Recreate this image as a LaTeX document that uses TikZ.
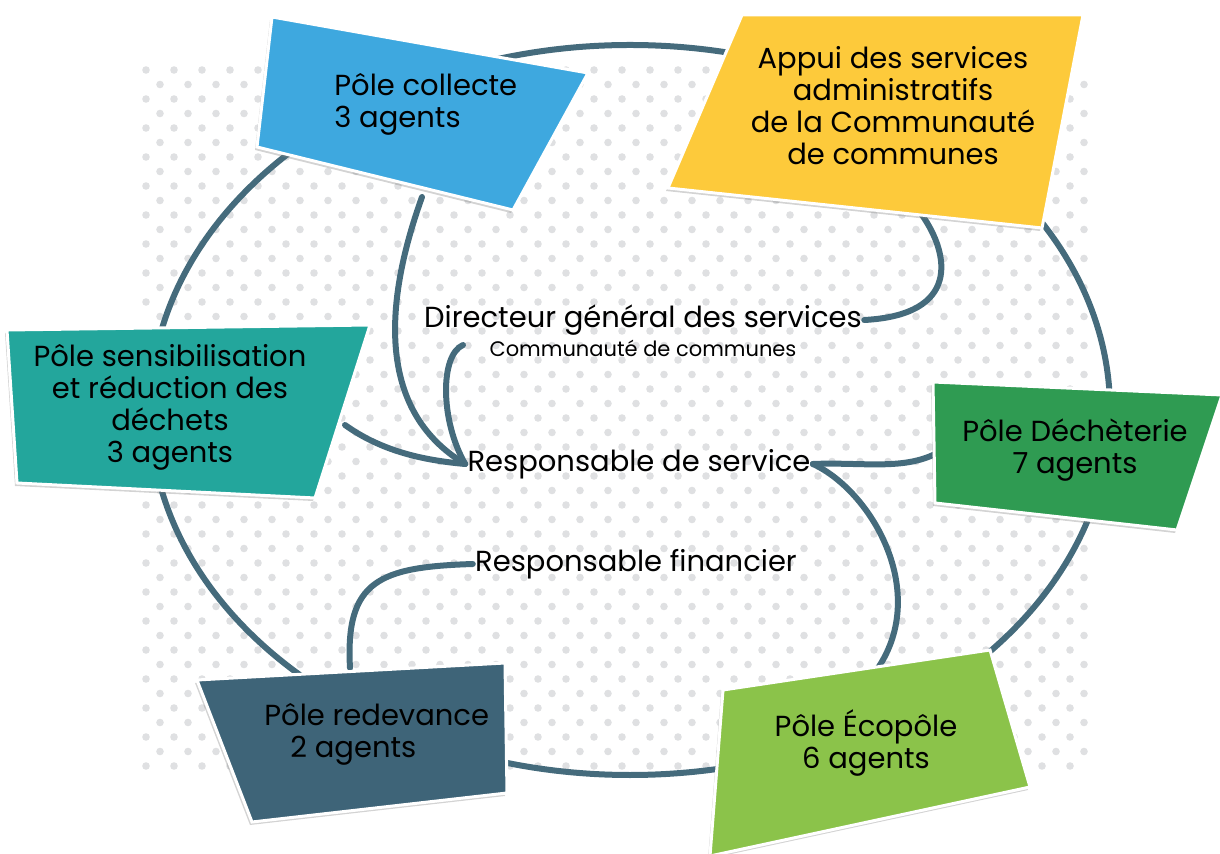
\documentclass[tikz,border=0pt]{standalone}
\usepackage{fontspec}
\setmainfont{Poppins}
\usetikzlibrary{positioning,shadows,calc}
\definecolor{ringc}{HTML}{456B7C}
\definecolor{collecte}{HTML}{3EA8DF}
\definecolor{appui}{HTML}{FDCA3B}
\definecolor{sensi}{HTML}{23A69C}
\definecolor{decheterie}{HTML}{2F9B52}
\definecolor{redevance}{HTML}{3E6478}
\definecolor{ecopole}{HTML}{8BC34A}
\definecolor{dotc}{HTML}{DFE0E2}
\begin{document}
\begin{tikzpicture}[x=0.5pt,y=-0.5pt,
  pole/.style={draw=white,line width=1.5pt,drop shadow={shadow xshift=-1pt,shadow yshift=-1.5pt,opacity=0.35}},
  txt/.style={font=\fontsize{14.5}{16}\selectfont,align=center,inner sep=1pt},
  sub/.style={font=\fontsize{10.5}{12}\selectfont,inner sep=1pt},
  link/.style={draw=ringc,line width=3pt,line cap=round}]

  \useasboundingbox (0,0) rectangle (1220,854);

%DOTTED BACKGROUND
  \foreach \r in {0,...,48}{
    \pgfmathsetmacro\yy{70+14.5*\r}
    \pgfmathsetmacro\off{mod(\r,2)*14}
    \foreach \c in {0,...,33}{
      \fill[dotc] ({146+\off+28*\c},\yy) circle[radius=3.8];
    }
  }

%RING
  \draw[link] (630,410) ellipse [x radius=480, y radius=365];

%CENTRE LABELS
  \node[txt] (dgs) at (643,320) {Directeur général des services};
  \node[sub] (dgsc) [below=0pt of dgs] {Communauté de communes};
  \node[txt] (rs) at (639,464) {Responsable de service};
  \node[txt] (rf) at (636,564) {Responsable financier};

%LINK ENDS ON THE POLES
  \coordinate (collecteEnd) at (422,197);
  \coordinate (dgscEnd) at (463,345);
  \coordinate (sensiEnd) at (345,425);
  \coordinate (appuiEnd) at (922,215);
  \coordinate (dechEnd) at (933,455);
  \coordinate (ecoEnd) at (878,668);
  \coordinate (redevEnd) at (350,668);

%DRAWING LINKS
  \draw[link] (collecteEnd) .. controls (385,300) and (375,410) .. (rs.west);
  \draw[link] (dgscEnd) .. controls (440,355) and (440,420) .. (rs.west);
  \draw[link] (sensiEnd) .. controls (380,450) and (420,460) .. (rs.west);
  \draw[link] (appuiEnd) .. controls (950,255) and (960,315) .. (dgs.east);
  \draw[link] (dechEnd) .. controls (900,470) and (860,462) .. (rs.east);
  \draw[link] (rs.east) .. controls (870,490) and (930,590) .. (ecoEnd);
  \draw[link] (rf.west) .. controls (380,567) and (345,580) .. (redevEnd);

%DRAWING POLES
  \fill[pole,fill=collecte] (272,17) -- (588,73) -- (513,210) -- (257,147) -- cycle;
  \fill[pole,fill=appui] (742,15) -- (1083,15) -- (1042,228) -- (668,188) -- cycle;
  \fill[pole,fill=sensi] (7,330) -- (370,325) -- (315,498) -- (17,483) -- cycle;
  \fill[pole,fill=decheterie] (933,382) -- (1222,395) -- (1177,530) -- (935,503) -- cycle;
  \fill[pole,fill=redevance] (197,680) -- (505,663) -- (507,793) -- (252,822) -- cycle;
  \fill[pole,fill=ecopole] (723,690) -- (990,650) -- (1030,787) -- (710,856) -- cycle;

  \node[txt,align=left,anchor=west] (collecte) at (332,104) {Pôle collecte\\3 agents};
  \node[txt] (appui) at (893,106) {Appui des services\\administratifs\\de la Communauté\\de communes};
  \node[txt] (sensi) at (170,407) {Pôle sensibilisation\\et réduction des\\déchets\\3 agents};
  \node[txt] (dech) at (1075,450) {Pôle Déchèterie\\7 agents};
  \node[txt,align=left,anchor=west] (redev) at (262,734) {Pôle redevance\\\hspace*{13pt}2 agents};
  \node[txt] (eco) at (866,743) {Pôle Écopôle\\6 agents};

\end{tikzpicture}
\end{document}
